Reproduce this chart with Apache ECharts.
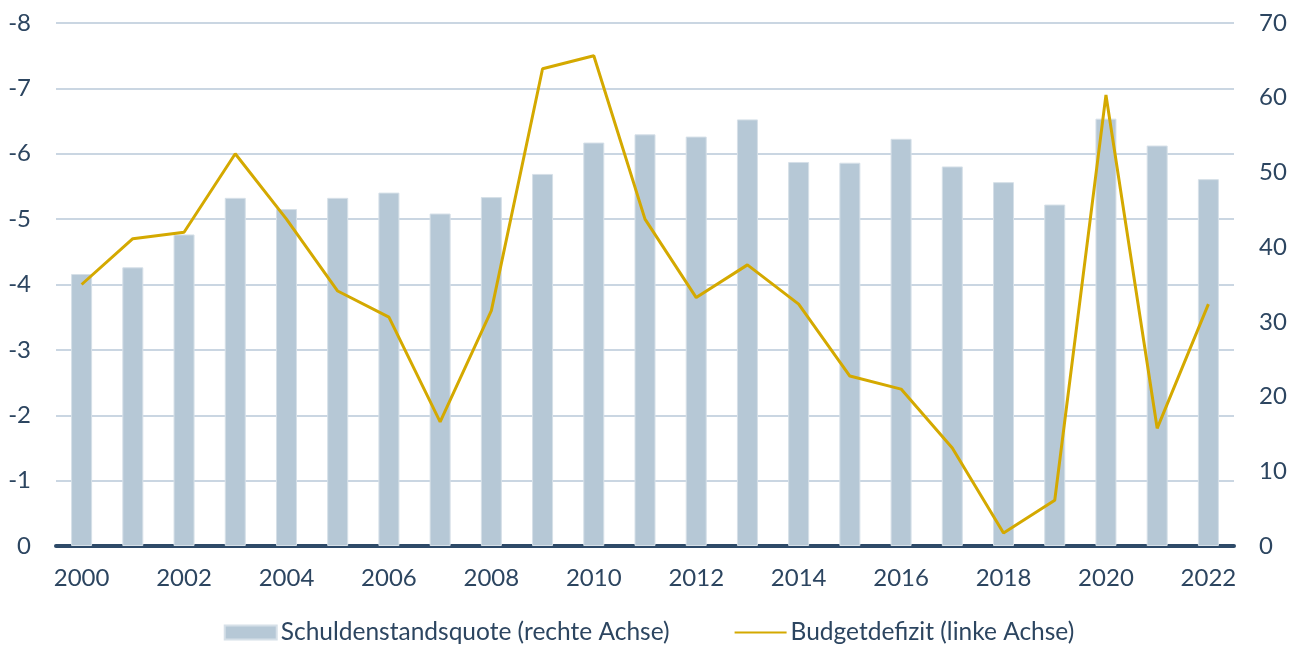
<!DOCTYPE html>
<html>
<head>
<meta charset="utf-8">
<script src="https://cdn.jsdelivr.net/npm/echarts@6/dist/echarts.min.js"></script>
<style>
  html, body { margin: 0; padding: 0; background: #fff; }
  #chart { width: 1298px; height: 650px; }
</style>
</head>
<body>
<div id="chart"></div>
<script>
// Jahre
const years = ['2000', '2001', '2002', '2003', '2004', '2005', '2006', '2007', '2008', '2009', '2010', '2011',
  '2012', '2013', '2014', '2015', '2016', '2017', '2018', '2019', '2020', '2021', '2022'];

// Schuldenstandsquote (rechte Achse)
const debtRatio = [36.4, 37.3, 41.7, 46.6, 45.1, 46.6, 47.3, 44.5, 46.7, 49.8, 54.0, 55.1,
  54.8, 57.1, 51.4, 51.3, 54.5, 50.8, 48.7, 45.7, 57.2, 53.6, 49.1];

// Budgetdefizit (linke Achse)
const budgetDeficit = [-4.0, -4.7, -4.8, -6.0, -5.0, -3.9, -3.5, -1.9, -3.6, -7.3, -7.5, -5.0,
  -3.8, -4.3, -3.7, -2.6, -2.4, -1.5, -0.2, -0.7, -6.9, -1.8, -3.7];

const seriesNames = ['Schuldenstandsquote (rechte Achse)', 'Budgetdefizit (linke Achse)'];

const textColor = '#2c4560';
const fontFamily = 'Lato, "Noto Sans", sans-serif';
const fontSize = 24;

const myChart = echarts.init(document.getElementById('chart'));

const option = {
  animation: false,
  textStyle: { fontFamily: fontFamily },
  grid: {
    left: 56,
    right: 64,
    top: 23,
    bottom: 104,
    containLabel: false
  },
  legend: {
    bottom: 0,
    left: 'center',
    itemWidth: 52,
    itemHeight: 14,
    itemGap: 64,
    textStyle: { color: textColor, fontSize: 24.5, fontFamily: fontFamily, padding: [0, 0, 0, -1] },
    data: [
      { name: seriesNames[0], icon: 'rect' },
      { name: seriesNames[1], itemStyle: { opacity: 0 } }
    ]
  },
  xAxis: {
    type: 'category',
    data: years,
    boundaryGap: true,
    axisTick: { show: false },
    axisLine: { lineStyle: { color: '#2e4a68', width: 4 } },
    axisLabel: {
      interval: 1,
      color: textColor,
      fontSize: fontSize,
      margin: 20
    }
  },
  yAxis: [
    {
      type: 'value',
      min: -8,
      max: 0,
      interval: 1,
      inverse: true,
      position: 'left',
      axisLine: { show: false },
      axisTick: { show: false },
      axisLabel: { color: textColor, fontSize: fontSize, margin: 25 },
      splitLine: { lineStyle: { color: '#b8c9d8', width: 1.5 } }
    },
    {
      type: 'value',
      min: 0,
      max: 70,
      interval: 10,
      position: 'right',
      axisLine: { show: false },
      axisTick: { show: false },
      axisLabel: { color: textColor, fontSize: fontSize, margin: 25 },
      splitLine: { show: false }
    }
  ],
  series: [
    {
      name: seriesNames[0],
      type: 'bar',
      yAxisIndex: 1,
      barWidth: 21,
      itemStyle: { color: '#b6c8d6', borderColor: '#d6e0e8', borderWidth: 1 },
      data: debtRatio
    },
    {
      name: seriesNames[1],
      type: 'line',
      yAxisIndex: 0,
      symbol: 'none',
      lineStyle: { color: '#d4a900', width: 3 },
      itemStyle: { color: '#d4a900' },
      data: budgetDeficit
    }
  ]
};

myChart.setOption(option);
</script>
</body>
</html>
